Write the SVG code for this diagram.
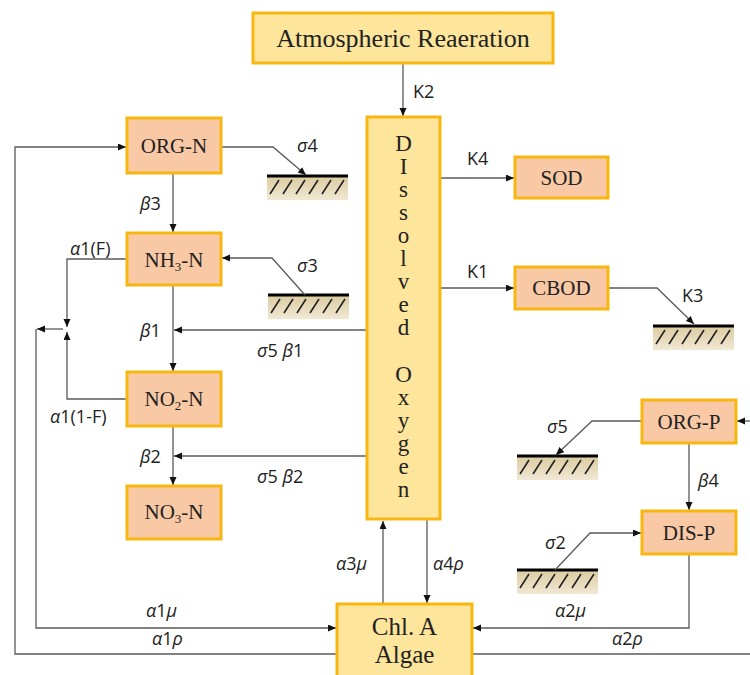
<svg xmlns="http://www.w3.org/2000/svg" xmlns:xlink="http://www.w3.org/1999/xlink" width="750" height="675" viewBox="0 0 750 675">
<defs>
<marker id="arr" markerUnits="userSpaceOnUse" markerWidth="9" markerHeight="8" refX="8" refY="3.5" orient="auto">
<path d="M0,0 L8,3.5 L0,7 z" fill="#111"/>
</marker>
<linearGradient id="sand" x1="0" y1="0" x2="0" y2="1">
<stop offset="0" stop-color="#dccba0"/>
<stop offset="1" stop-color="#f1e8d4"/>
</linearGradient>
<g id="ground">
<rect x="0" y="0" width="81" height="24" fill="url(#sand)"/>
<path d="M3,18 L12,4 M16,18 L25,4 M29,18 L38,4 M42,18 L51,4 M55,18 L64,4 M68,18 L77,4" stroke="#222" stroke-width="1.6" fill="none"/>
<line x1="0" y1="0" x2="81" y2="0" stroke="#000" stroke-width="3"/>
</g>
</defs>
<style>
.peach{fill:#f9c9a6;stroke:#f7b710;stroke-width:3}
.yel{fill:#fde59b;stroke:#f7b710;stroke-width:3}
.nt{font-family:"Liberation Serif","Times New Roman",serif;font-size:21px;fill:#222;text-anchor:middle}
.big{font-size:25px}
.lbl{font-family:"Open Sans","Noto Sans",sans-serif;font-size:18px;fill:#222}
.g{font-style:italic}
.c{fill:none;stroke:#5a5a5a;stroke-width:1.3}
.ca{fill:none;stroke:#5a5a5a;stroke-width:1.3;marker-end:url(#arr)}
</style>
<rect width="750" height="675" fill="#fff"/>

<g id="grounds">
<use xlink:href="#ground" x="267" y="176"/>
<use xlink:href="#ground" x="268" y="295"/>
<use xlink:href="#ground" x="653" y="326"/>
<use xlink:href="#ground" x="517" y="456"/>
<use xlink:href="#ground" x="517" y="570"/>
</g>

<g id="connectors">
<path class="ca" d="M403,63 V116"/>
<path class="ca" d="M440,178 H514"/>
<path class="ca" d="M440,288 H514"/>
<path class="ca" d="M608,288 H657 L694,324"/>
<path class="ca" d="M221,147 H273 L306,175"/>
<path class="ca" d="M336,654 H15 V147 H126"/>
<path class="ca" d="M173,173 V232"/>
<path class="ca" d="M305,295 L272,258 H222"/>
<path class="ca" d="M127,259 H67 V327"/>
<path class="ca" d="M127,399 H67 V332"/>
<path class="ca" d="M63,329 H37"/>
<path class="ca" d="M36,329 V628 H336"/>
<path class="ca" d="M173,285 V371"/>
<path class="ca" d="M367,330 H174"/>
<path class="ca" d="M173,426 V485"/>
<path class="ca" d="M367,456 H174"/>
<path class="ca" d="M383,604 V521"/>
<path class="ca" d="M427,520 V603"/>
<path class="ca" d="M689,554 V628 H473"/>
<path class="c" d="M472,654 H750"/>
<path class="ca" d="M750,421 H737"/>
<path class="ca" d="M689,443 V510"/>
<path class="ca" d="M642,421 H592 L556,455"/>
<path class="ca" d="M555,570 L590,533 H641"/>
</g>

<g id="labels">
<text class="lbl" x="413" y="98">K2</text>
<text class="lbl" x="467" y="165">K4</text>
<text class="lbl" x="467" y="278">K1</text>
<text class="lbl" x="682" y="302">K3</text>
<text class="lbl" x="297" y="152"><tspan class="g">σ</tspan>4</text>
<text class="lbl" x="140" y="210"><tspan class="g">β</tspan>3</text>
<text class="lbl" x="70" y="255"><tspan class="g">α</tspan>1(F)</text>
<text class="lbl" x="297" y="272"><tspan class="g">σ</tspan>3</text>
<text class="lbl" x="140" y="337"><tspan class="g">β</tspan>1</text>
<text class="lbl" x="257" y="357"><tspan class="g">σ</tspan>5 <tspan class="g">β</tspan>1</text>
<text class="lbl" x="50" y="423"><tspan class="g">α</tspan>1(1-F)</text>
<text class="lbl" x="140" y="463"><tspan class="g">β</tspan>2</text>
<text class="lbl" x="257" y="483"><tspan class="g">σ</tspan>5 <tspan class="g">β</tspan>2</text>
<text class="lbl" x="547" y="433"><tspan class="g">σ</tspan>5</text>
<text class="lbl" x="698" y="487"><tspan class="g">β</tspan>4</text>
<text class="lbl" x="545" y="549"><tspan class="g">σ</tspan>2</text>
<text class="lbl" x="336" y="570"><tspan class="g">α</tspan>3<tspan class="g">μ</tspan></text>
<text class="lbl" x="433" y="570"><tspan class="g">α</tspan>4<tspan class="g">ρ</tspan></text>
<text class="lbl" x="146" y="617"><tspan class="g">α</tspan>1<tspan class="g">μ</tspan></text>
<text class="lbl" x="152" y="645"><tspan class="g">α</tspan>1<tspan class="g">ρ</tspan></text>
<text class="lbl" x="555" y="617"><tspan class="g">α</tspan>2<tspan class="g">μ</tspan></text>
<text class="lbl" x="612" y="645"><tspan class="g">α</tspan>2<tspan class="g">ρ</tspan></text>
</g>

<g id="atm">
<rect class="yel" x="253" y="13" width="300" height="50"/>
<text class="nt" x="403" y="47" style="font-size:26px">Atmospheric Reaeration</text>
</g>
<g id="do">
<rect class="yel" x="367" y="117" width="73" height="402"/>
<text class="nt" x="403.5" style="font-size:23px">
<tspan x="403.5" y="151">D</tspan><tspan x="403.5" y="174">I</tspan><tspan x="403.5" y="197">s</tspan><tspan x="403.5" y="220">s</tspan><tspan x="403.5" y="243">o</tspan><tspan x="403.5" y="266">l</tspan><tspan x="403.5" y="289">v</tspan><tspan x="403.5" y="312">e</tspan><tspan x="403.5" y="335">d</tspan><tspan x="403.5" y="382">O</tspan><tspan x="403.5" y="405">x</tspan><tspan x="403.5" y="428">y</tspan><tspan x="403.5" y="451">g</tspan><tspan x="403.5" y="474">e</tspan><tspan x="403.5" y="497">n</tspan>
</text>
</g>
<g id="orgn">
<rect class="peach" x="127" y="118" width="94" height="55"/>
<text class="nt" x="174" y="153">ORG-N</text>
</g>
<g id="nh3n">
<rect class="peach" x="127" y="233" width="94" height="52"/>
<text class="nt" x="174" y="267">NH<tspan dy="4" style="font-size:13px">3</tspan><tspan dy="-4">-N</tspan></text>
</g>
<g id="no2n">
<rect class="peach" x="127" y="372" width="94" height="54"/>
<text class="nt" x="174" y="406">NO<tspan dy="4" style="font-size:13px">2</tspan><tspan dy="-4">-N</tspan></text>
</g>
<g id="no3n">
<rect class="peach" x="127" y="486" width="94" height="53"/>
<text class="nt" x="174" y="519">NO<tspan dy="4" style="font-size:13px">3</tspan><tspan dy="-4">-N</tspan></text>
</g>
<g id="sod">
<rect class="peach" x="515" y="157" width="93" height="41"/>
<text class="nt" x="561.5" y="185">SOD</text>
</g>
<g id="cbod">
<rect class="peach" x="515" y="267" width="93" height="42"/>
<text class="nt" x="561.5" y="295">CBOD</text>
</g>
<g id="orgp">
<rect class="peach" x="642" y="400" width="94" height="43"/>
<text class="nt" x="689" y="429">ORG-P</text>
</g>
<g id="disp">
<rect class="peach" x="642" y="511" width="94" height="43"/>
<text class="nt" x="689" y="540">DIS-P</text>
</g>
<g id="chla">
<rect class="yel" x="337" y="604" width="135" height="80"/>
<text class="nt big" x="404.5" y="635">Chl. A</text>
<text class="nt big" x="404.5" y="663">Algae</text>
</g>
</svg>
